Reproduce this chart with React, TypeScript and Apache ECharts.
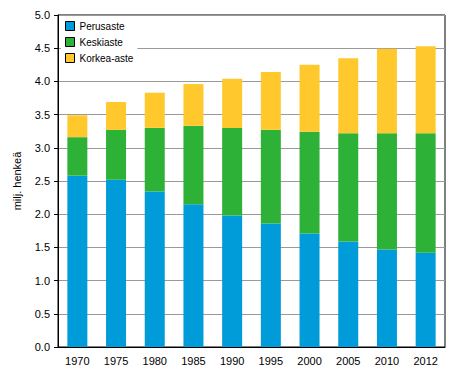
import React, { useEffect, useRef } from "react";
import * as echarts from "echarts";

const categories = ["1970", "1975", "1980", "1985", "1990", "1995", "2000", "2005", "2010", "2012"];
const perusaste = [2.58, 2.52, 2.34, 2.15, 1.98, 1.86, 1.71, 1.59, 1.47, 1.42];
const keskiaste = [0.58, 0.75, 0.96, 1.18, 1.32, 1.41, 1.53, 1.63, 1.75, 1.80];
const korkeaAste = [0.33, 0.42, 0.53, 0.63, 0.74, 0.87, 1.01, 1.13, 1.27, 1.31];
const seriesNames = ["Perusaste", "Keskiaste", "Korkea-aste"];
const colors = ["#009cd9", "#2db136", "#ffc92e"];
const yAxisName = "milj. henkeä";

const FONT = "'Liberation Sans', Arial, sans-serif";

export default function App() {
  const ref = useRef<HTMLDivElement>(null);
  useEffect(() => {
    if (!ref.current) return;
    const chart = echarts.init(ref.current, null, { renderer: "svg" });
    const data = [perusaste, keskiaste, korkeaAste];
    chart.setOption({
      animation: false,
      textStyle: { fontFamily: FONT },
      grid: {
        left: 58,
        right: 9,
        top: 15,
        bottom: 31,
        show: true,
        borderColor: "#000",
        borderWidth: 1,
        z: 0,
      },
      legend: {
        orient: "vertical",
        left: 61,
        top: 17,
        padding: [4, 4, 4, 4],
        itemWidth: 9,
        itemHeight: 9,
        itemGap: 6,
        backgroundColor: "#fff",
        icon: "rect",
        itemStyle: { borderColor: "#000", borderWidth: 1 },
        textStyle: { fontFamily: FONT, fontSize: 10, color: "#000" },
        data: seriesNames,
      },
      xAxis: {
        type: "category",
        data: categories,
        axisLine: { lineStyle: { color: "#000", width: 1 } },
        axisTick: { show: false },
        axisLabel: { color: "#000", fontSize: 11, fontFamily: FONT, margin: 8 },
      },
      yAxis: {
        type: "value",
        min: 0,
        max: 5,
        interval: 0.5,
        name: yAxisName,
        nameLocation: "middle",
        nameGap: 36,
        nameTextStyle: { color: "#000", fontSize: 11, fontFamily: FONT },
        axisLine: { show: true, lineStyle: { color: "#000", width: 1 } },
        axisTick: { show: true, length: 4, lineStyle: { color: "#000" } },
        axisLabel: {
          color: "#000",
          fontSize: 11,
          fontFamily: FONT,
          margin: 8,
          formatter: (v: number) => v.toFixed(1),
        },
        splitLine: { lineStyle: { color: "#999", width: 1 } },
      },
      series: seriesNames.map((name, i) => ({
        name,
        type: "bar",
        stack: "total",
        barWidth: 20,
        itemStyle: { color: colors[i] },
        data: data[i],
      })),
    });
    return () => chart.dispose();
  }, []);
  return <div ref={ref} style={{ width: 454, height: 378, position: "absolute", left: 0, top: 0 }} />;
}
